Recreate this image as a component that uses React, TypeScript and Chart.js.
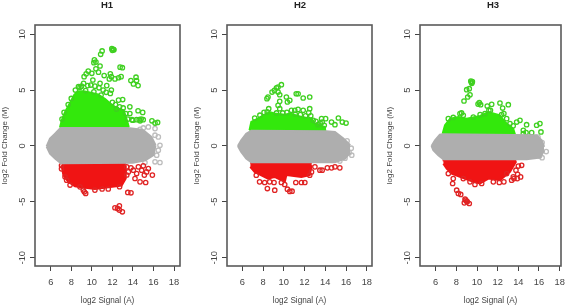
import { useEffect, useRef } from "react";
import { Chart, registerables } from "chart.js";

Chart.register(...registerables);

type P = [number, number];

const xTicks = [6, 8, 10, 12, 14, 16, 18];
const yTicks = [-10, -5, 0, 5, 10];

// H1
const h1GrayUp: P[] = [[5.6,-0.05],[5.93,0.66],[6.42,1.1],[6.9,1.55],[7,1.6],[13.5,1.6],[14.5,1.5],[15,1.4],[15.8,0.8],[16.2,0.06]];
const h1GrayLow: P[] = [[5.6,-0.05],[5.93,-0.68],[6.42,-1.13],[6.9,-1.48],[7,-1.55],[14,-1.5],[15.2,-1.28],[16,-0.83],[16.2,0.06]];
const h1GreenUp: P[] = [[6.9,1.65],[7.07,2.3],[7.4,3.04],[7.9,3.9],[8.3,4.6],[8.7,4.9],[9.2,4.9],[9.7,4.8],[10.6,4.6],[11.3,4.2],[11.9,3.7],[12.4,3.4],[13.1,3.2],[13.35,2.5],[13.6,1.7]];
const h1GreenLow: P[] = [[6.9,1.6],[13.6,1.6]];
const h1RedUp: P[] = [[7.05,-1.57],[13.3,-1.57]];
const h1RedLow: P[] = [[7.05,-1.72],[7.23,-2.6],[7.7,-3.2],[8.36,-3.6],[9,-3.7],[10.3,-3.85],[11.6,-3.7],[12.9,-3.55],[13.3,-2.9],[13.3,-1.72]];
const h1GreenPts: P[] = [[11,8.5],[10.86,8.2],[11.95,8.7],[12.1,8.65],[12,8.55],[12.15,8.6],[10.25,7.7],[10.4,7.5],[10.2,7.45],[10.8,7.15],[10.4,6.9],[12.75,7.05],[12.97,7],[9.65,6.7],[9.45,6.45],[9.25,6.2],[10,6.5],[10.65,6.6],[11.2,6.3],[11.8,6.45],[11.9,6.2],[11.7,6],[12.25,6],[12.6,6.1],[12.85,6.2],[14.3,6.15],[14.35,5.85],[13.8,5.85],[14.05,5.55],[14.5,5.4],[10.1,5.9],[9.2,5.6],[8.85,5.25],[10.8,5.6],[11.45,5.4],[11.9,5],[12.6,4.1],[13,4.15],[13.7,3.5],[14.5,3.15],[14.95,3],[13.05,3.4],[12.4,3.3],[12.7,3.5],[13.7,2.9],[14,2.3],[14.7,2.25],[15,2.35],[15.85,2.25],[16.15,2.05],[16.4,2.1],[14.35,2.35],[8.4,5],[8.7,5.3],[9,5.35],[9.6,5.4],[9.9,5.45],[10.3,5.35],[10.7,5.2],[11.1,5],[11.4,4.8],[11.8,4.7],[8,4.25],[7.7,3.7],[7.3,3],[7.1,2.4],[12,3.9],[12.3,3.7],[13.3,2.9],[13.5,2.4],[13.9,2.35],[14.6,2.35],[14.8,2.4],[9.4,4.95],[10.2,4.85],[10.9,4.55]];
const h1RedPts: P[] = [[7.05,-1.75],[7.05,-2.05],[7.39,-2.76],[7.55,-3.06],[7.88,-3.5],[8.85,-3.66],[9.17,-3.95],[9.4,-4.25],[9.27,-4.1],[10.3,-3.95],[11,-3.85],[11.6,-3.85],[12.7,-3.65],[13.5,-4.16],[13.81,-4.19],[12.25,-5.53],[12.5,-5.59],[12.68,-5.35],[12.68,-5.74],[12.97,-5.89],[13.39,-1.87],[13.81,-1.96],[14.53,-1.87],[15.01,-1.78],[15.5,-2.02],[14.04,-2.17],[14.36,-2.47],[15.11,-2.61],[15.89,-2.61],[14.2,-2.91],[14.69,-3.21],[15.24,-3.27],[13.55,-2.32],[14.85,-2.17],[15.33,-2.32],[13.4,-2.6]];
const h1GrayPts: P[] = [[16.63,0.06],[16.47,-0.38],[16.63,-1.48],[16.15,-1.42],[15.17,-1.48],[16.31,-0.83],[16.15,1.55],[15.5,1.7],[15.01,1.61],[14.69,1.49],[16.47,0.81],[16.15,0.96]];

// H2
const h2GrayUp: P[] = [[5.58,0],[5.9,0.5],[6.38,1.1],[6.87,1.35],[14.1,1.31],[14.93,1.25],[15.74,0.66],[16.4,0.06]];
const h2GrayLow: P[] = [[5.58,0],[5.9,-0.54],[6.38,-1.13],[6.87,-1.45],[14.93,-1.45],[15.9,-1.13],[16.4,-0.6]];
const h2GreenUp: P[] = [[6.7,1.4],[6.87,2.14],[7.5,2.44],[8.16,2.8],[8.64,3.04],[9.1,2.9],[10.1,2.8],[10.6,2.9],[11.7,2.6],[12.67,2.44],[13,2],[13.96,1.7],[14,1.3]];
const h2GreenLow: P[] = [[6.7,1.3],[14,1.3]];
const h2RedUp: P[] = [[6.77,-1.49],[12.7,-1.49]];
const h2RedLow: P[] = [[6.77,-1.87],[7.19,-2.32],[7.84,-2.62],[8.48,-2.92],[9.1,-2.77],[10.1,-3.2],[10.25,-2.6],[11.7,-2.77],[12.5,-2.62],[12.7,-1.73]];
const h2GreenPts: P[] = [[9.77,5.48],[9.45,5.27],[9.3,5.2],[9.1,4.97],[8.87,4.82],[9.45,4.82],[9.61,4.58],[8.48,4.38],[8.38,4.23],[10.25,4.38],[11.2,4.67],[11.38,4.67],[11.87,4.29],[12.5,4.38],[10.58,4.08],[10.35,3.93],[9.61,3.99],[9.45,3.63],[9.61,3.33],[8.55,3.33],[10.74,3.19],[11.06,3.19],[11.38,3.27],[11.87,3.19],[12.5,3.33],[12.4,2.98],[12.84,2.29],[13.64,2.44],[14.03,2.44],[14.6,2.14],[15.26,2.5],[14.93,1.9],[15.64,2.14],[16,2.05],[13.7,2.14],[13.3,1.9],[7.2,2.5],[7.7,2.75],[8.1,3],[8.4,3.05],[9.3,2.95],[9.9,2.95],[10.3,3],[11.1,2.85],[11.6,2.8],[12.1,2.7],[12.6,2.7],[13.1,2.2],[13.5,2.05],[13.9,1.85]];
const h2RedPts: P[] = [[7.35,-2.62],[7.67,-3.21],[8.16,-3.27],[8.42,-3.81],[9.13,-3.96],[8.64,-3.21],[9.06,-3.27],[9.77,-3.27],[10.09,-3.45],[10.35,-3.87],[10.58,-4.07],[10.8,-4.05],[11.16,-3.27],[11.7,-3.27],[12.03,-3.27],[12.67,-2.32],[12.5,-2.62],[13,-1.87],[13.48,-2.17],[13.7,-2.17],[14.2,-1.96],[14.6,-1.96],[14.93,-1.87],[15.4,-1.96]];
const h2GrayPts: P[] = [[16.55,-0.83],[16.5,-0.2],[16.3,-0.6],[16.1,0.45],[15.4,-1.35],[15.9,-1.1]];

// H3
const h3GrayUp: P[] = [[5.6,0],[5.93,0.5],[6.4,1],[6.7,1.05],[15.77,0.95],[16.25,0.5],[16.5,-0.09]];
const h3GrayLow: P[] = [[5.6,0],[5.77,-0.39],[6.25,-0.83],[6.74,-1.19],[14.8,-1.19],[16.1,-1.05],[16.5,-0.4]];
const h3GreenUp: P[] = [[6.67,1.1],[6.9,1.85],[7.4,2.44],[8.19,2.59],[9,2.44],[10.3,2.68],[11.1,3.04],[12.22,2.74],[12.7,2.14],[13.5,1.55],[13.67,1.05]];
const h3GreenLow: P[] = [[6.67,1.05],[13.67,1.05]];
const h3RedUp: P[] = [[6.67,-1.28],[13.8,-1.28]];
const h3RedLow: P[] = [[6.74,-1.58],[7.06,-2.02],[7.54,-2.47],[8.35,-2.77],[9.64,-3.21],[10.29,-3.36],[11.1,-2.92],[12.22,-3.07],[13.19,-2.32],[13.8,-1.37]];
const h3GreenPts: P[] = [[9.4,5.8],[9.55,5.75],[9.5,5.6],[9.45,5.7],[9.25,5.12],[9,5.03],[9.32,4.58],[9.1,4.38],[8.74,4.02],[10.22,3.87],[10.35,3.69],[10.1,3.75],[10.99,3.57],[11.42,3.72],[12.22,3.84],[12.48,3.39],[13.03,3.69],[11.3,3.19],[8.35,2.89],[8.67,2.74],[7.22,2.44],[7.7,2.55],[9.64,2.59],[10.3,2.8],[10.77,2.89],[13.19,2],[13.84,2.14],[14.16,2.29],[14.48,1.4],[14.8,1.9],[15.29,1.19],[15.77,1.85],[16.09,2],[16.19,1.25],[14.48,1.1],[12.87,2.44],[12.38,2.8],[12.6,2.9],[8.5,2.95],[11.15,3.2],[14.75,1.2],[13.5,1.8]];
const h3RedPts: P[] = [[7.22,-2.47],[7.7,-2.92],[7.64,-3.36],[8.03,-3.96],[8.19,-4.25],[8.42,-4.34],[8.84,-4.76],[9,-4.94],[8.77,-5.09],[9.25,-5.15],[9.05,-5],[8.9,-4.85],[14.32,-1.73],[13.77,-2.17],[13.93,-2.53],[14.22,-2.77],[13.9,-2.92],[13.51,-2.77],[13.35,-3.07],[13.58,-2.92],[12.6,-3.21],[12.16,-3.27],[10.45,-3.36],[9.8,-3.45],[9.32,-3.21],[8.67,-2.92],[11.58,-3.21],[12.87,-2.47],[14,-1.8]];
const h3GrayPts: P[] = [[16.3,0.3],[16.7,-0.5],[16.3,-1.05],[15.9,0.8],[16.05,-0.9]];

const GRAY = "#aeaeae";
const GREEN = "#33e80c";
const RED = "#f01414";
const GREEN_RING = "#3fd020";
const RED_RING = "#e02424";
const GRAY_RING = "#bdbdbd";
const INK = "#444444";
const FONT = "'Liberation Sans', Arial, sans-serif";

const toXY = (a: P[]) => a.map(([x, y]) => ({ x, y }));

const band = (up: P[], low: P[], color: string, order: number) => [
  { type: "scatter", data: toXY(up), showLine: true, fill: "+1", backgroundColor: color, borderColor: color, borderWidth: 2, pointRadius: 0, order },
  { type: "scatter", data: toXY(low), showLine: true, fill: false, borderColor: color, borderWidth: 2, pointRadius: 0, order },
];
const rings = (pts: P[], color: string, order: number) => ({
  type: "scatter",
  data: toXY(pts),
  showLine: false,
  backgroundColor: "rgba(255,255,255,0)",
  borderColor: color,
  pointBorderColor: color,
  pointBorderWidth: 1.3,
  pointRadius: 2.2,
  order,
});

const boxPlugin = {
  id: "box",
  afterDraw(chart: any) {
    const { ctx, chartArea: a } = chart;
    ctx.save();
    ctx.strokeStyle = "#5a5a5a";
    ctx.lineWidth = 1.6;
    ctx.strokeRect(a.left, a.top, a.right - a.left, a.bottom - a.top);
    ctx.restore();
  },
};

type PanelDef = {
  title: string;
  left: number;
  width: number;
  leftW: number;
  rightW: number;
  xMin: number;
  xMax: number;
  grayUp: P[]; grayLow: P[]; greenUp: P[]; greenLow: P[]; redUp: P[]; redLow: P[];
  greenPts: P[]; redPts: P[]; grayPts: P[];
};

// Each canvas is centred on its title; the right-hand margin is a blank axis.
const panels: PanelDef[] = [
  { title: "H1", left: -2, width: 218, leftW: 37, rightW: 36, xMin: 4.47, xMax: 18.58, grayUp: h1GrayUp, grayLow: h1GrayLow, greenUp: h1GreenUp, greenLow: h1GreenLow, redUp: h1RedUp, redLow: h1RedLow, greenPts: h1GreenPts, redPts: h1RedPts, grayPts: h1GrayPts },
  { title: "H2", left: 190, width: 220, leftW: 37, rightW: 38, xMin: 4.53, xMax: 18.5, grayUp: h2GrayUp, grayLow: h2GrayLow, greenUp: h2GreenUp, greenLow: h2GreenLow, redUp: h2RedUp, redLow: h2RedLow, greenPts: h2GreenPts, redPts: h2RedPts, grayPts: h2GrayPts },
  { title: "H3", left: 383, width: 220, leftW: 37, rightW: 42, xMin: 4.48, xMax: 18.13, grayUp: h3GrayUp, grayLow: h3GrayLow, greenUp: h3GreenUp, greenLow: h3GreenLow, redUp: h3RedUp, redLow: h3RedLow, greenPts: h3GreenPts, redPts: h3RedPts, grayPts: h3GrayPts },
];

function Panel({ def }: { def: PanelDef }) {
  const ref = useRef<HTMLCanvasElement | null>(null);
  useEffect(() => {
    const chart = new Chart(ref.current as HTMLCanvasElement, {
      type: "scatter",
      data: {
        datasets: [
          rings(def.grayPts, GRAY_RING, 6),
          ...band(def.grayUp, def.grayLow, GRAY, 1),
          ...band(def.greenUp, def.greenLow, GREEN, 3),
          ...band(def.redUp, def.redLow, RED, 3),
          rings(def.greenPts, GREEN_RING, 2),
          rings(def.redPts, RED_RING, 2),
        ] as any,
      },
      options: {
        animation: false,
        responsive: false,
        layout: { padding: 0 },
        plugins: {
          legend: { display: false },
          tooltip: { enabled: false },
          title: {
            display: true,
            text: def.title,
            color: "#222",
            font: { family: FONT, size: 9.5, weight: "bold" },
            padding: { top: 0, bottom: 13.6 },
          },
        },
        scales: {
          x: {
            type: "linear",
            min: def.xMin,
            max: def.xMax,
            afterBuildTicks: (s: any) => { s.ticks = xTicks.map((value) => ({ value })); },
            afterFit: (s: any) => { s.height = 42; },
            grid: { drawOnChartArea: false, drawTicks: true, tickLength: 5, color: INK },
            border: { display: false },
            ticks: { color: INK, font: { family: FONT, size: 9.3 }, padding: 5.5, maxRotation: 0, autoSkip: false },
            title: { display: true, text: "log2 Signal (A)", color: INK, font: { family: FONT, size: 8.2 }, padding: { top: 0, bottom: 2 } },
          },
          y: {
            type: "linear",
            min: -10.74,
            max: 10.82,
            afterBuildTicks: (s: any) => { s.ticks = yTicks.map((value) => ({ value })); },
            afterFit: (s: any) => { s.width = def.leftW; },
            grid: { drawOnChartArea: false, drawTicks: true, tickLength: 5, color: INK },
            border: { display: false },
            ticks: { color: INK, font: { family: FONT, size: 9.3 }, padding: 1, minRotation: 90, maxRotation: 90, crossAlign: "center", autoSkip: false },
            title: { display: true, text: "log2 Fold Change (M)", color: INK, font: { family: FONT, size: 8 }, padding: { top: 2, bottom: 0 } },
          },
          margin: {
            type: "linear",
            position: "right",
            min: 0,
            max: 1,
            afterFit: (s: any) => { s.width = def.rightW; },
            grid: { display: false },
            border: { display: false },
            ticks: { display: false },
          },
        },
      } as any,
      plugins: [boxPlugin],
    });
    return () => chart.destroy();
  }, [def]);
  return (
    <canvas
      ref={ref}
      width={def.width}
      height={308}
      style={{ position: "absolute", left: def.left, top: 0, width: def.width, height: 308, filter: "blur(0.4px)" }}
    />
  );
}

export default function App() {
  return (
    <div style={{ position: "fixed", left: 0, top: 0, width: 567, height: 308, overflow: "hidden", background: "#fff" }}>
      {panels.map((p) => <Panel key={p.title} def={p} />)}
    </div>
  );
}
